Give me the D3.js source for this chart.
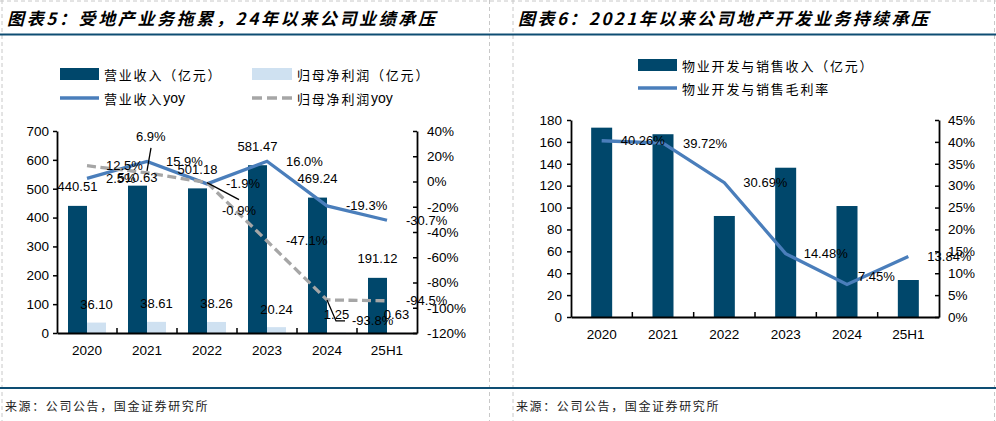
<!DOCTYPE html>
<html><head><meta charset="utf-8">
<script src="https://cdn.jsdelivr.net/npm/d3@7"></script>
<style>body{margin:0;background:#fff} svg{display:block}</style>
</head><body><svg id="c" width="996" height="421"></svg>
<script>
// ---------- data ----------
const categories = ["2020", "2021", "2022", "2023", "2024", "25H1"];
const revenue = [440.51, 510.63, 501.18, 581.47, 469.24, 191.12];
const netProfit = [36.10, 38.61, 38.26, 20.24, 1.25, 0.63];
const revenueYoy = [0.025, 0.159, -0.019, 0.160, -0.193, -0.307];
const netProfitYoy = [0.125, 0.069, -0.009, -0.471, -0.938, -0.945];
const devRevenue = [173, 167, 92.3, 136.4, 101.4, 33.8];
const devMargin = [0.4026, 0.3972, 0.3069, 0.1448, 0.0745, 0.1384];
const leftTicks = [0, 100, 200, 300, 400, 500, 600, 700];
const yoyTicks = [-1.2, -1.0, -0.8, -0.6, -0.4, -0.2, 0, 0.2, 0.4];
const devTicks = [0, 20, 40, 60, 80, 100, 120, 140, 160, 180];
const marginTicks = [0, 0.05, 0.10, 0.15, 0.20, 0.25, 0.30, 0.35, 0.40, 0.45];
const titleLeft = "图表5：受地产业务拖累，24年以来公司业绩承压";
const titleRight = "图表6：2021年以来公司地产开发业务持续承压";
const legendLeft = [["营业收入（亿元）", ""], ["归母净利润（亿元）", ""], ["营业收入", "yoy"], ["归母净利润", "yoy"]];
const legendRight = [["物业开发与销售收入（亿元）", ""], ["物业开发与销售毛利率", ""]];
const sourceText = "来源：公司公告，国金证券研究所";

// ---------- layout (label nudges, not data) ----------
const revLabelDy = [-19, -8, -19, -19, -19, -19];
const npYoyLabelOff = [[19, 0], [-11, -36], [15, 28], [19, 0], [25, 21], [19, 0]];
const npYoyLeaders = [null, [[0, -2], [4, -25]], [[0, 0], [32, 17]], null, [[0, 0], [9, 21], [18, 21]], null];
const marginLabelOff = [[19, 0], [20, 0], [19, 0], [18, 0], [11, -8], [19, 0]];

const loc = d3.formatLocale({decimal: ".", thousands: ",", grouping: [3], currency: ["", ""], minus: "-"});
const pct0 = loc.format(".0%"), pct1 = loc.format(".1%"), pct2 = loc.format(".2%"), f2 = loc.format(".2f");

const NUM = "'Liberation Sans', Arial, sans-serif";
const CJK = "'Noto Sans CJK SC', 'Noto Sans', sans-serif";
const DARK = "#00476B", LIGHT = "#CFE1F1", BLUE = "#4A7EBB", GRAY = "#A6A6A6", RULE = "#0E4D73";

const svg = d3.select("#c");

// ---------- frame ----------
const frame = svg.append("g").attr("stroke", "#C8C8C8").attr("stroke-width", 1).attr("stroke-dasharray", "4,3");
[[2, 0, 2, 421], [489.5, 0, 489.5, 421], [513, 0, 513, 421], [994.5, 0, 994.5, 421], [0, 1, 996, 1]].forEach(d => {
  frame.append("line").attr("x1", d[0]).attr("y1", d[1]).attr("x2", d[2]).attr("y2", d[3]);
});
svg.append("line").attr("x1", 0).attr("x2", 996).attr("y1", 34.5).attr("y2", 34.5).attr("stroke", RULE).attr("stroke-width", 2);
svg.append("line").attr("x1", 0).attr("x2", 996).attr("y1", 388).attr("y2", 388).attr("stroke", RULE).attr("stroke-width", 2);

function title(x, len, t) {
  svg.append("text").attr("x", x).attr("y", 17).attr("dominant-baseline", "central")
    .attr("font-family", CJK).attr("font-size", 17).attr("font-weight", 700).attr("font-style", "italic")
    .attr("textLength", len).attr("lengthAdjust", "spacing").attr("fill", "#000").text(t);
}
title(7, 428, titleLeft);
title(518, 410, titleRight);

[5, 516].forEach(x => svg.append("text").attr("x", x).attr("y", 405).attr("dominant-baseline", "central")
  .attr("font-family", CJK).attr("font-size", 12).attr("letter-spacing", 1.6).attr("fill", "#222").text(sourceText));

function legText(x, y, parts) {
  const t = svg.append("text").attr("x", x).attr("y", y).attr("dominant-baseline", "central")
    .attr("font-size", 13).attr("fill", "#000");
  t.append("tspan").attr("font-family", CJK).attr("letter-spacing", 1.8).text(parts[0]);
  if (parts[1]) t.append("tspan").attr("font-family", NUM).attr("font-size", 14).text(parts[1]);
}

function styleAxis(g) {
  g.select(".domain").attr("stroke", "#000").attr("stroke-width", 1.8);
  g.selectAll(".tick line").attr("stroke", "#000").attr("stroke-width", 1.5);
  g.selectAll(".tick text").attr("font-family", NUM).attr("font-size", 13.5).attr("fill", "#000");
}

function label(x, y, t, anchor) {
  return svg.append("text").attr("x", x).attr("y", y).attr("dominant-baseline", "central")
    .attr("text-anchor", anchor || "middle").attr("font-family", NUM).attr("font-size", 13)
    .attr("fill", "#000").text(t);
}

// =============== LEFT CHART ===============
legText(104, 74, legendLeft[0]);
legText(297, 74, legendLeft[1]);
legText(104, 98, legendLeft[2]);
legText(297, 98, legendLeft[3]);
svg.append("rect").attr("x", 60).attr("y", 68).attr("width", 39).attr("height", 12).attr("fill", DARK);
svg.append("rect").attr("x", 252).attr("y", 68).attr("width", 40).attr("height", 12).attr("fill", LIGHT);
svg.append("line").attr("x1", 60).attr("x2", 99).attr("y1", 98).attr("y2", 98).attr("stroke", BLUE).attr("stroke-width", 3.5);
svg.append("line").attr("x1", 252).attr("x2", 292).attr("y1", 98).attr("y2", 98).attr("stroke", GRAY).attr("stroke-width", 3.5).attr("stroke-dasharray", "10,5");

const xL = d3.scaleBand().domain(categories).range([57, 417]);
const yL = d3.scaleLinear().domain([0, 700]).range([333, 131]);
const yL2 = d3.scaleLinear().domain([-1.2, 0.4]).range([333, 131]);
const cL = c => xL(c) + xL.bandwidth() / 2;
const BW = 19;

svg.append("g").selectAll("rect").data(categories).join("rect")
  .attr("x", c => cL(c) - BW).attr("width", BW)
  .attr("y", (c, i) => yL(revenue[i])).attr("height", (c, i) => yL(0) - yL(revenue[i])).attr("fill", DARK);
svg.append("g").selectAll("rect").data(categories).join("rect")
  .attr("x", c => cL(c)).attr("width", BW)
  .attr("y", (c, i) => yL(netProfit[i])).attr("height", (c, i) => yL(0) - yL(netProfit[i])).attr("fill", LIGHT);

const lineRev = d3.line().x((d, i) => cL(categories[i])).y(d => yL2(d));
svg.append("path").attr("d", lineRev(revenueYoy)).attr("fill", "none").attr("stroke", BLUE).attr("stroke-width", 3.3);
svg.append("path").attr("d", lineRev(netProfitYoy)).attr("fill", "none").attr("stroke", GRAY).attr("stroke-width", 3.3).attr("stroke-dasharray", "9,4.5");

const gLA = svg.append("g").attr("transform", "translate(57,0)")
  .call(d3.axisLeft(yL).tickValues(leftTicks).tickSize(4).tickSizeOuter(0).tickPadding(4).tickFormat(d3.format("d")));
styleAxis(gLA);
const gRA = svg.append("g").attr("transform", "translate(417,0)")
  .call(d3.axisRight(yL2).tickValues(yoyTicks).tickSize(-4).tickSizeOuter(0).tickPadding(10).tickFormat(pct0));
styleAxis(gRA);
const gXA = svg.append("g").attr("transform", "translate(0,333)")
  .call(d3.axisBottom(xL).tickSize(0).tickPadding(10));
styleAxis(gXA);
gXA.selectAll(".tick text").attr("dy", 0).attr("y", 17).attr("dominant-baseline", "central");
svg.append("g").selectAll("line").data(categories.slice(1)).join("line")
  .attr("x1", c => xL(c)).attr("x2", c => xL(c)).attr("y1", 333).attr("y2", 328)
  .attr("stroke", "#000").attr("stroke-width", 1.5);

categories.forEach((c, i) => {
  label(cL(c) - BW / 2, yL(revenue[i]) + revLabelDy[i], f2(revenue[i]));
  label(cL(c) + BW / 2, yL(netProfit[i]) - 18, f2(netProfit[i]));
});
categories.forEach((c, i) => {
  label(cL(c) + 19, yL2(revenueYoy[i]), pct1(revenueYoy[i]), "start");
});
categories.forEach((c, i) => {
  const px = cL(c), py = yL2(netProfitYoy[i]);
  const o = npYoyLabelOff[i];
  label(px + o[0], py + o[1], pct1(netProfitYoy[i]), "start");
  if (npYoyLeaders[i]) {
    svg.append("polyline").attr("points", npYoyLeaders[i].map(p => [px + p[0], py + p[1]].join(",")).join(" "))
      .attr("fill", "none").attr("stroke", "#000").attr("stroke-width", 1.3);
  }
});

// =============== RIGHT CHART ===============
legText(682, 65, legendRight[0]);
legText(682, 88, legendRight[1]);
svg.append("rect").attr("x", 638).attr("y", 59).attr("width", 39).attr("height", 12).attr("fill", DARK);
svg.append("line").attr("x1", 638).attr("x2", 677).attr("y1", 88).attr("y2", 88).attr("stroke", BLUE).attr("stroke-width", 3.5);

const xR = d3.scaleBand().domain(categories).range([571, 939]);
const yR = d3.scaleLinear().domain([0, 180]).range([317, 120]);
const yR2 = d3.scaleLinear().domain([0, 0.45]).range([317, 120]);
const cR = c => xR(c) + xR.bandwidth() / 2;
const BW2 = 21;

svg.append("g").selectAll("rect").data(categories).join("rect")
  .attr("x", c => cR(c) - BW2 / 2).attr("width", BW2)
  .attr("y", (c, i) => yR(devRevenue[i])).attr("height", (c, i) => yR(0) - yR(devRevenue[i])).attr("fill", DARK);
const lineM = d3.line().x((d, i) => cR(categories[i])).y(d => yR2(d));
svg.append("path").attr("d", lineM(devMargin)).attr("fill", "none").attr("stroke", BLUE).attr("stroke-width", 3.3);

const gLB = svg.append("g").attr("transform", "translate(571,0)")
  .call(d3.axisLeft(yR).tickValues(devTicks).tickSize(4).tickSizeOuter(0).tickPadding(5).tickFormat(d3.format("d")));
styleAxis(gLB);
const gRB = svg.append("g").attr("transform", "translate(939,0)")
  .call(d3.axisRight(yR2).tickValues(marginTicks).tickSize(-4).tickSizeOuter(0).tickPadding(9).tickFormat(pct0));
styleAxis(gRB);
const gXB = svg.append("g").attr("transform", "translate(0,317)")
  .call(d3.axisBottom(xR).tickSize(0).tickPadding(10));
styleAxis(gXB);
gXB.selectAll(".tick text").attr("dy", 0).attr("y", 17).attr("dominant-baseline", "central");
svg.append("g").selectAll("line").data(categories.slice(1)).join("line")
  .attr("x1", c => xR(c)).attr("x2", c => xR(c)).attr("y1", 317).attr("y2", 312)
  .attr("stroke", "#000").attr("stroke-width", 1.5);

categories.forEach((c, i) => {
  const o = marginLabelOff[i];
  label(cR(c) + o[0], yR2(devMargin[i]) + o[1], pct2(devMargin[i]), "start");
});
</script></body></html>
